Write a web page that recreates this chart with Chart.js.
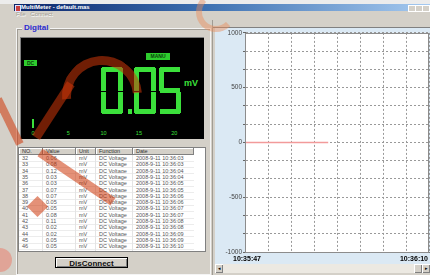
<!DOCTYPE html>
<html>
<head>
<meta charset="utf-8">
<script src="https://cdn.jsdelivr.net/npm/chart.js@4"></script>
<style>
  body { margin: 0; width: 430px; height: 275px; overflow: hidden; background: #d4d0c8; position: relative; font-family: "Liberation Sans", Arial, sans-serif; }
  .abs { position: absolute; }
  #topstrip { left: 0; top: 0; width: 430px; height: 4px; background: #ececec; }
  #title { left: 14px; top: 4px; width: 416px; height: 7px; background: linear-gradient(to right, #0a246a, #3c6fb0 45%, #a6caf0); color: #fff; font: bold 6px/7px "Liberation Sans", Arial; white-space: nowrap; }
  #title .ico { position: absolute; left: 1px; top: 1px; width: 4px; height: 5px; background: #c84040; border: 1px solid #e0e0ff; }
  #title .txt { position: absolute; left: 7px; top: 0; }
  #title .btn { position: absolute; top: 1px; width: 6px; height: 5px; background: #d4d0c8; border: 0.5px solid #fff; }
  #menu { left: 16px; top: 11px; font: 6px/7px "Liberation Sans", Arial; color: #a09c94; text-shadow: 0.5px 0.5px 0 #fff; word-spacing: 3px; }
  #group { left: 16px; top: 28px; width: 193px; height: 245px; border: 1px solid #f4f4f4; box-shadow: inset 1px 1px 0 #a09c94; }
  #grouplbl { left: 22px; top: 23px; padding: 0 2px; background: #d4d0c8; color: #2a2ad0; font: bold 8px/9px "Liberation Sans", Arial; }
  #display { left: 20px; top: 37px; width: 183px; height: 101px; background: #000; border-top: 1px solid #808080; border-left: 1px solid #808080; }
  .seg { position: absolute; background: #3be03b; }
  .tag { position: absolute; background: #2ecc2e; color: #0a400a; font: bold 5px/6px "Liberation Sans", Arial; text-align: center; }
  .scl { position: absolute; color: #3be03b; font: 5.5px/6px "Liberation Sans", Arial; transform: translateX(-50%); }
  #unit { left: 184px; top: 78px; color: #3be03b; font: bold 9px/10px "Liberation Sans", Arial; }
  #table { left: 18px; top: 147px; width: 186px; height: 103px; background: #fff; border: 1px solid #808080; overflow: hidden; }
  .cell { position: absolute; font: 5.5px/6.3px "Liberation Sans", Arial; color: #555; white-space: nowrap; }
  .hdr { position: absolute; top: 0; height: 7px; background: #d4d0c8; border-right: 1px solid #808080; border-bottom: 1px solid #808080; box-shadow: inset 1px 1px 0 #fff; font: 5.5px/7px "Liberation Sans", Arial; color: #333; padding-left: 3px; box-sizing: border-box; }
  .hline { position: absolute; left: 0; width: 175px; height: 1px; background: #ececec; }
  .vline { position: absolute; top: 7px; width: 1px; height: 96px; background: #e4e4e4; }
  #vscroll { left: 193px; top: 0; width: 11px; height: 103px; background: #ece9e2; }
  #vscroll div { position: absolute; left: 0; width: 11px; background: #d4d0c8; box-shadow: inset 1px 1px 0 #fff, inset -1px -1px 0 #808080; box-sizing: border-box; font: 5px/7px Arial; text-align: center; color: #000; }
  #discon { left: 55px; top: 257px; width: 73px; height: 11px; background: #d4d0c8; border: 1px solid #000; box-shadow: inset 1px 1px 0 #fff, inset -1px -1px 0 #808080; font: bold 8px/11px "Liberation Sans", Arial; text-align: center; color: #111; box-sizing: border-box; }
  #sep { left: 212px; top: 20px; width: 1px; height: 255px; background: #a09c94; }
  #trend { position: absolute; left: 215px; top: 28px; background: #dbe9f4; }
  #hscroll { left: 215px; top: 264px; width: 215px; height: 9px; background: #ece9e2; }
  #hscroll div { position: absolute; top: 0; width: 8px; height: 9px; background: #d4d0c8; box-shadow: inset 1px 1px 0 #fff, inset -1px -1px 0 #808080; font: 5px/9px Arial; text-align: center; }
  #rtop { left: 213px; top: 20px; width: 217px; height: 8px; background: #d4d0c8; border-bottom: 1px solid #808080; box-sizing: border-box; }
  /* watermark strokes laid over the screenshot */
  .wm { position: absolute; pointer-events: none; z-index: 10; background: rgba(205, 55, 10, 0.55); transform-origin: 0 50%; }
  .wmring { position: absolute; pointer-events: none; z-index: 10; border-radius: 50%; box-sizing: border-box; }
</style>
</head>
<body>
<div class="abs" id="topstrip"></div>
<div class="abs" id="title"><div class="ico"></div><div class="txt">MultiMeter - default.mas</div>
  <div class="btn" style="left:394px"></div><div class="btn" style="left:401px"></div><div class="btn" style="left:408px"></div></div>
<div class="abs" id="menu">File Connect</div>
<div class="abs" id="group"></div>
<div class="abs" id="grouplbl">Digital</div>
<div class="abs" id="display"></div>
<div class="abs" id="table"></div>
<div class="abs" id="discon">DisConnect</div>
<div class="abs" id="sep"></div>
<div class="abs" id="rtop"></div>
<canvas id="trend" width="215" height="236"></canvas>
<div class="abs" id="hscroll"><div style="left:0">&#9666;</div><div style="left:207px">&#9656;</div><div style="left:199px"></div></div>

<!-- watermark -->
<div class="wm" style="left:36px;top:133px;width:64px;height:9px;transform:rotate(-57deg)"></div>
<div class="wmring" style="left:62px;top:56px;width:80px;height:80px;border:9px solid rgba(205,55,10,0.55);border-bottom-color:transparent;border-right-color:transparent;transform:rotate(40deg)"></div>
<div class="wm" style="left:40px;top:148px;width:88px;height:9px;transform:rotate(34deg)"></div>
<div class="wm" style="left:30px;top:199px;width:15px;height:15px;transform-origin:50% 50%;transform:rotate(45deg)"></div>
<div class="wm" style="left:-2px;top:95px;width:50px;height:8px;transform:rotate(64deg)"></div>
<div class="wmring" style="left:-12px;top:248px;width:24px;height:24px;background:rgba(240,110,90,0.45)"></div>
<div class="wmring" style="left:196px;top:-8px;width:40px;height:40px;border:6px solid rgba(235,140,90,0.45);border-top-color:transparent;border-right-color:transparent"></div>

<script>
// trend chart data (seconds after 10:35:47, value in mV)
const chartSeconds = [0, 1.5, 3, 4.5, 6, 7.5, 9, 10.4];
const chartValues = [0.06, 0.08, 0.12, 0.03, 0.03, 0.07, 0.07, 0.05];
const yMin = -1000;
const yMax = 1000;
const xSpanSeconds = 23;
const timeLabels = ['10:35:47', '10:36:10'];

// meter readout
const reading = '0.05';
const readingUnit = 'mV';
const barScale = [0, 5, 10, 15, 20];

// log table
const tableHeaders = ['NO.', 'Value', 'Unit', 'Function', 'Date'];
const tableNo = [32, 33, 34, 35, 36, 37, 38, 39, 40, 41, 42, 43, 44, 45, 46];
const tableValue = ['0.06', '0.08', '0.12', '0.03', '0.03', '0.07', '0.07', '0.05', '0.05', '0.08', '0.11', '0.02', '0.02', '0.05', '0.05'];
const tableTime = ['10:36:03', '10:36:03', '10:36:04', '10:36:04', '10:36:05', '10:36:05', '10:36:06', '10:36:06',
  '10:36:07', '10:36:07', '10:36:08', '10:36:08', '10:36:09', '10:36:09', '10:36:10'];

// --- digital display ---
const disp = document.getElementById('display');
function addEl(parent, cls, css, text) {
  const d = document.createElement('div');
  d.className = cls;
  Object.assign(d.style, css);
  if (text !== undefined) d.textContent = text;
  parent.appendChild(d);
  return d;
}
const SEGS = { '0': 'abcdef', '5': 'afgcd', '1': 'bc', '2': 'abged', '3': 'abgcd' };
function digit(ch, x, y, w, h, t) {
  const half = h / 2;
  const pos = {
    a: [x + 1, y, w - 2, t], d: [x + 1, y + h - t, w - 2, t], g: [x + 1, y + half - t / 2, w - 2, t],
    f: [x, y + 1, t, half - 1], b: [x + w - t, y + 1, t, half - 1],
    e: [x, y + half + 1, t, half - 2], c: [x + w - t, y + half + 1, t, half - 2]
  };
  for (const s of SEGS[ch]) {
    const p = pos[s];
    addEl(disp, 'seg', { left: p[0] + 'px', top: p[1] + 'px', width: p[2] + 'px', height: p[3] + 'px' });
  }
}
// display coords are relative to the black box (left 20, top 37)
let cx = 80;
for (const ch of reading) {
  if (ch === '.') { addEl(disp, 'seg', { left: (cx + 2) + 'px', top: '71px', width: '4px', height: '5px' }); cx += 8; continue; }
  digit(ch, cx, 29, 22, 47, 5);
  cx += 25;
}
addEl(disp, 'tag', { left: '3px', top: '22px', width: '13px', height: '6px' }, 'DC');
addEl(disp, 'tag', { left: '125px', top: '15px', width: '24px', height: '7px' }, 'MANU');
addEl(document.body, 'abs', {}, readingUnit).id = 'unit';
addEl(disp, 'seg', { left: '11px', top: '81px', width: '2px', height: '9px' });
barScale.forEach((v, i) => addEl(disp, 'scl', { left: (12 + i * 35.3) + 'px', top: '92px' }, String(v)));

// --- table ---
const tbl = document.getElementById('table');
const colX = [0, 24, 57, 77, 114, 175];
tableHeaders.forEach((h, i) => addEl(tbl, 'hdr', { left: colX[i] + 'px', width: (colX[i + 1] - colX[i]) + 'px' }, h));
const rowH = 6.3;
tableNo.forEach((n, r) => {
  const top = 7 + r * rowH;
  const vals = [String(n), tableValue[r], 'mV', 'DC Voltage', '2008-9-11 ' + tableTime[r]];
  vals.forEach((v, i) => addEl(tbl, 'cell', { left: (colX[i] + 3) + 'px', top: top + 'px' }, v));
  addEl(tbl, 'hline', { top: (top + rowH - 0.5) + 'px' });
});
colX.slice(1, 5).forEach(x => addEl(tbl, 'vline', { left: (x - 1) + 'px' }));
const vs = addEl(tbl, 'abs', {});
vs.id = 'vscroll';
addEl(vs, '', { top: '0', height: '7px' }, '\u25B4');
addEl(vs, '', { top: '67px', height: '29px' });
addEl(vs, '', { top: '96px', height: '7px' }, '\u25BE');

// --- trend chart ---
const plotFrame = {
  id: 'plotFrame',
  beforeDraw(chart) {
    const a = chart.chartArea, ctx = chart.ctx;
    ctx.save();
    ctx.fillStyle = '#ffffff';
    ctx.fillRect(a.left, a.top, a.right - a.left, a.bottom - a.top);
    ctx.restore();
  },
  afterDraw(chart) {
    const a = chart.chartArea, ctx = chart.ctx, xs = chart.scales.x;
    ctx.save();
    ctx.strokeStyle = '#8c8c8c';
    ctx.lineWidth = 1;
    ctx.strokeRect(Math.round(a.left) + 0.5, Math.round(a.top) + 0.5, Math.round(a.right - a.left) - 1, Math.round(a.bottom - a.top));
    ctx.fillStyle = '#000';
    ctx.font = 'bold 7px "Liberation Sans", Arial';
    ctx.textBaseline = 'middle';
    ctx.textAlign = 'center';
    ctx.fillText(timeLabels[0], xs.getPixelForValue(0) + 2, a.bottom + 7);
    ctx.textAlign = 'right';
    ctx.fillText(timeLabels[1], xs.getPixelForValue(xSpanSeconds) - 1, a.bottom + 7);
    ctx.restore();
  }
};

new Chart(document.getElementById('trend'), {
  type: 'line',
  data: {
    datasets: [{
      data: chartSeconds.map((s, i) => ({ x: s, y: chartValues[i] })),
      borderColor: '#f29a9a',
      borderWidth: 1.5,
      pointRadius: 0,
      tension: 0
    }]
  },
  options: {
    responsive: false,
    animation: false,
    layout: { padding: { top: 4, right: 1, left: 0, bottom: 0 } },
    plugins: { legend: { display: false }, tooltip: { enabled: false } },
    scales: {
      x: {
        type: 'linear',
        min: 0,
        max: xSpanSeconds,
        afterFit(s) { s.height = 12; },
        ticks: { display: false, count: 9, autoSkip: false },
        grid: { color: '#999', drawTicks: false },
        border: { color: '#777', dash: [2, 2] }
      },
      y: {
        min: yMin,
        max: yMax,
        afterFit(s) { s.width = 30; },
        ticks: {
          count: 13,
          autoSkip: false,
          padding: 1,
          color: '#444',
          font: { size: 6.5, family: 'Liberation Sans' },
          callback: v => (Math.abs(v - Math.round(v)) < 0.01 && Math.round(v) % 500 === 0) ? String(Math.round(v)) : ''
        },
        grid: { color: '#999', tickLength: 2, tickColor: '#666' },
        border: { color: '#666', dash: [2, 2] }
      }
    }
  },
  plugins: [plotFrame]
});
</script>
</body>
</html>
